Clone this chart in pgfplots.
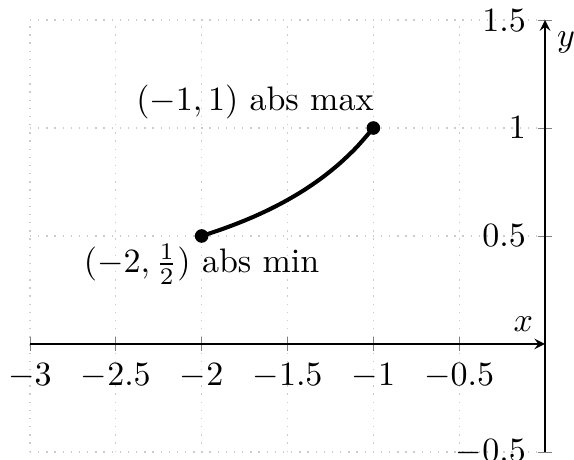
\documentclass[border=0pt]{standalone}
\usepackage{pgfplots}
\pgfplotsset{compat=1.18}
\begin{document}
\begin{tikzpicture}
\begin{axis}[
    axis lines=middle,
    scale only axis,
    width=151.5pt, height=127pt,
    xmin=-3, xmax=0,
    ymin=-0.5, ymax=1.5,
    xtick={-3,-2.5,...,0},
    ytick={-0.5,0,0.5,1,1.5},
    grid=major,
    grid style={dotted, gray!40},
    xlabel={$x$}, ylabel={$y$},
    xlabel style={at={(axis cs:0,0)}, anchor=south east},
    ylabel style={at={(axis cs:0,1.5)}, anchor=north west},
    clip=false,
]
\addplot[very thick, smooth] coordinates {
(-2,0.5) (-1.9,0.5263) (-1.8,0.5556) (-1.7,0.5882) (-1.6,0.625)
(-1.5,0.6667) (-1.4,0.7143) (-1.3,0.7692) (-1.2,0.8333) (-1.1,0.9091) (-1,1)
};
\addplot[only marks, mark=*, mark size=1.8pt] coordinates {(-2,0.5) (-1,1)};
\node at (axis cs:-1.69,1.12) {$(-1,1)$ abs max};
\node at (axis cs:-2,0.37) {$(-2,\frac{1}{2})$ abs min};
\end{axis}
\pgfresetboundingbox
\useasboundingbox ([shift={(-8.8pt,-2.35pt)}]current axis.south west) rectangle ([shift={(8.5pt,5.9pt)}]current axis.north east);
\end{tikzpicture}
\end{document}
